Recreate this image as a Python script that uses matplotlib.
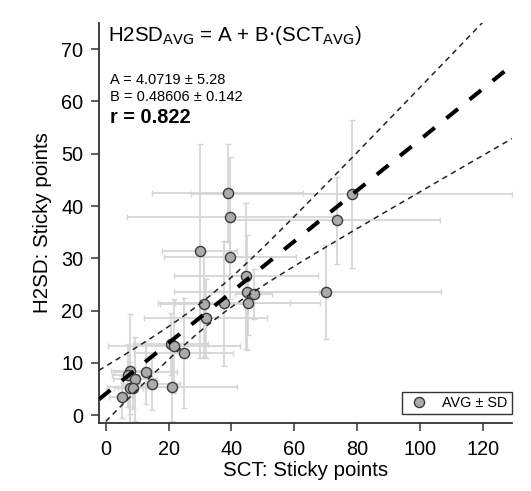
import numpy as np
import matplotlib
matplotlib.use('Agg')
import matplotlib.pyplot as plt
from matplotlib.lines import Line2D

plt.rcParams['font.family'] = ['Liberation Sans', 'DejaVu Sans']

# SCT (x) vs H2SD (y), averages and SDs
sct_avg = [38.9, 39.5, 29.9, 39.5, 78.3, 73.6, 70.1, 44.6, 44.9, 47.1, 45.2, 37.6, 31.2,
           31.8, 20.7, 21.7, 24.8, 7.8, 7.0, 12.7, 9.2, 7.8, 8.6, 14.6, 21.0, 5.1]
h2sd_avg = [42.5, 37.9, 31.4, 30.2, 42.3, 37.3, 23.5, 26.6, 23.5, 23.1, 21.4, 21.4, 21.2,
            18.5, 13.6, 13.2, 11.9, 8.4, 7.6, 8.2, 6.9, 5.2, 5.2, 5.9, 5.4, 3.4]
sct_sd = [24.0, 32.8, 12.0, 21.0, 51.0, 32.8, 36.6, 23.0, 23.0, 6.0, 23.0, 21.0, 14.0,
          19.5, 12.0, 21.0, 15.7, 6.0, 5.0, 10.0, 7.0, 4.0, 6.0, 9.0, 20.7, 4.0]
h2sd_sd = [9.3, 11.4, 20.4, 8.0, 14.2, 8.3, 9.0, 14.0, 11.0, 4.8, 6.0, 12.0, 10.0,
           7.5, 6.0, 9.0, 10.6, 11.0, 6.0, 6.0, 8.0, 5.0, 4.0, 5.0, 6.5, 4.0]

# fit parameters
A, sA = 4.0719, 5.28
B, sB = 0.48606, 0.142
covAB = -0.65
r_val = 0.822

fig = plt.figure(figsize=(5.31, 4.91), dpi=100)
ax = fig.add_axes([0.186, 0.1385, 0.778, 0.8145])

ax.errorbar(sct_avg, h2sd_avg, xerr=sct_sd, yerr=h2sd_sd, fmt='none',
            ecolor='#d6d6d6', elinewidth=1.3, capsize=2.5, capthick=1.0, zorder=1)
ax.plot(sct_avg, h2sd_avg, 'o', ms=7.3, mfc='#ababab', mec='#3a3a3a', mew=1.0, zorder=3)

xl = (-2.2, 129.3)
xs = np.linspace(xl[0], xl[1], 300)
fit = A + B * xs
half = np.sqrt(sA**2 + xs**2 * sB**2 + 2 * xs * covAB)
ax.plot(xs, fit, color='black', lw=2.9, dashes=(3.7, 3.7), zorder=4)
ax.plot(xs, fit + half, color='#222222', lw=1.1, dashes=(3.6, 2.9), zorder=4)
ax.plot(xs, fit - half, color='#222222', lw=1.1, dashes=(3.6, 2.9), zorder=4)

ax.set_xlim(*xl)
ax.set_ylim(-1.5, 75)
ax.set_xticks([0, 20, 40, 60, 80, 100, 120])
ax.set_yticks([0, 10, 20, 30, 40, 50, 60, 70])
ax.spines['top'].set_visible(False)
ax.spines['right'].set_visible(False)
for s in ('left', 'bottom'):
    ax.spines[s].set_linewidth(1.3)
    ax.spines[s].set_color('#333333')
ax.tick_params(direction='out', length=6, width=1.1, color='#333333', labelsize=14.3)
ax.tick_params(axis='x', pad=6)
ax.tick_params(axis='y', pad=5)

ax.set_xlabel('SCT: Sticky points', fontsize=14.8, labelpad=2)
ax.set_ylabel('H2SD: Sticky points', fontsize=14.8, labelpad=7)

ax.text(0.022, 0.955, r'H2SD$_{\mathrm{AVG}}$ = A + B$\cdot$(SCT$_{\mathrm{AVG}}$)',
        transform=ax.transAxes, fontsize=14.8, va='baseline', ha='left')
ax.text(0.027, 0.8475, 'A = 4.0719 \u00b1 5.28', transform=ax.transAxes, fontsize=10.5,
        va='baseline')
ax.text(0.027, 0.805, 'B = 0.48606 \u00b1 0.142', transform=ax.transAxes, fontsize=10.5,
        va='baseline')
ax.text(0.027, 0.75, 'r = %.3f' % r_val, transform=ax.transAxes, fontsize=14.3,
        fontweight='bold', va='baseline')

handle = Line2D([], [], ls='none', marker='o', ms=7.3, mfc='#ababab', mec='#3a3a3a', mew=1.0)
leg = ax.legend([handle], ['AVG \u00b1 SD'], loc='lower right', bbox_to_anchor=(1.0, 0.022),
                fontsize=10.4, frameon=True, fancybox=False, handlelength=1.8,
                handletextpad=0.7, borderpad=0.3, borderaxespad=0.0)
leg.get_frame().set_edgecolor('black')
leg.get_frame().set_linewidth(1.0)

fig.savefig('out.png', dpi=100)
